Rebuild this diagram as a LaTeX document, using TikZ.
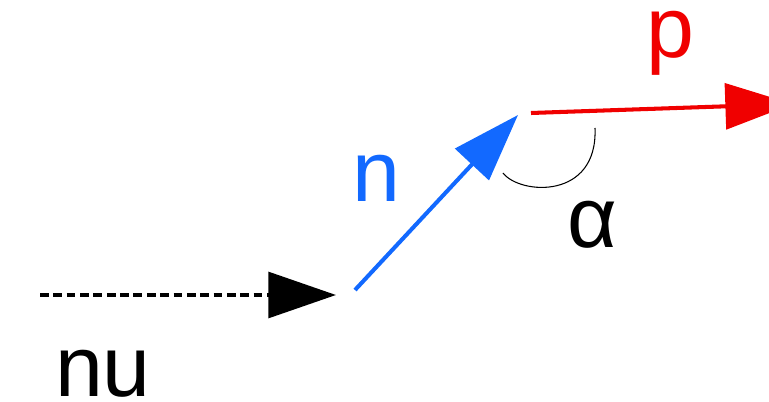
\documentclass[tikz,border=0pt]{standalone}
\usepackage{fontspec}
\setmainfont{Liberation Sans}
\usetikzlibrary{arrows.meta}
\definecolor{nBlue}{RGB}{18,105,255}
\definecolor{pRed}{RGB}{240,0,0}

\begin{document}
\begin{tikzpicture}[x=0.02cm,y=-0.02cm,
  lbl/.style={font=\fontsize{49}{50}\selectfont,inner sep=0pt,anchor=base,
              text height=0.54em,text depth=0.2em},
  vec/.style={line width=2.3pt,-{Triangle[length=38.5pt,width=26pt]}},
]
\useasboundingbox (0,0) rectangle (769,402);
\coordinate (nuA) at (40,295);
\coordinate (nuB) at (336,295);
\coordinate (nA) at (355,290);
\coordinate (nB) at (518,115);
\coordinate (pA) at (531,113);
\coordinate (pB) at (793,104);
\coordinate (arcA) at (503,173);
\coordinate (arcB) at (595,128);
\node[lbl] (nu) at (103,397) {nu};
\node[lbl,text=nBlue] (nlbl) at (376,202) {n};
\node[lbl,text=pRed] (plbl) at (670,58) {p};
\node[lbl] (alpha) at (592,248) {α};
\draw[vec,dashed,dash pattern=on 5pt off 2.6pt] (nuA) -- (nuB);
\draw[vec,nBlue] (nA) -- (nB);
\draw[vec,pRed] (pA) -- (pB);
\draw[line width=0.6pt] (arcA) .. controls (520,195) and (598,200) .. (arcB);
\end{tikzpicture}
\end{document}
